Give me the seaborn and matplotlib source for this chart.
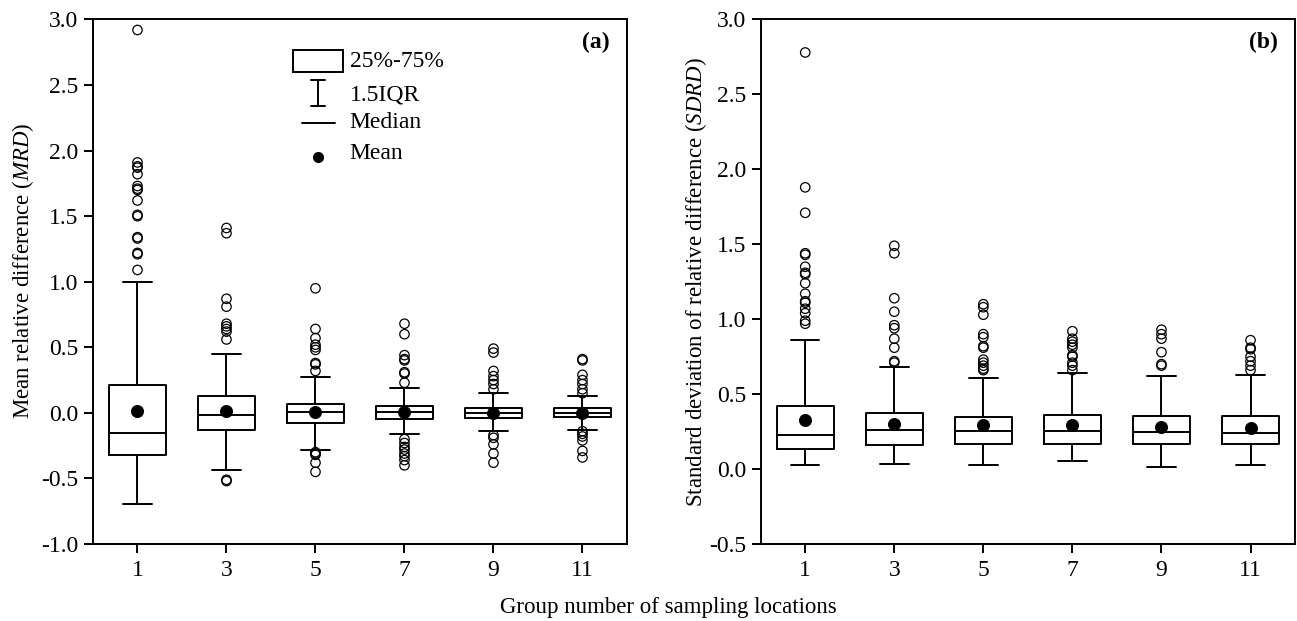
import matplotlib
matplotlib.use("Agg")
import matplotlib.pyplot as plt
import seaborn as sns
import numpy as np
import pandas as pd
from matplotlib.patches import Rectangle
from matplotlib.lines import Line2D

# ---------------- data ----------------
groups = ["1", "3", "5", "7", "9", "11"]

# Panel (a): MRD
mrd_q1 = [-0.324, -0.127, -0.074, -0.046, -0.036, -0.031]
mrd_med = [-0.156, -0.015, 0.010, 0.005, 0.000, 0.002]
mrd_q3 = [0.214, 0.125, 0.069, 0.051, 0.035, 0.035]
mrd_wlo = [-0.692, -0.438, -0.283, -0.163, -0.140, -0.130]
mrd_whi = [0.997, 0.447, 0.270, 0.193, 0.150, 0.132]
mrd_mean = [0.015, 0.012, 0.005, 0.008, 0.002, 0.002]
mrd_fliers = [
    [2.92, 1.91, 1.88, 1.87, 1.82, 1.73, 1.71, 1.70, 1.62, 1.51, 1.50, 1.34, 1.33, 1.22, 1.21, 1.09],
    [1.41, 1.37, 0.87, 0.81, 0.68, 0.66, 0.64, 0.62, 0.56, -0.51, -0.52],
    [0.95, 0.64, 0.57, 0.52, 0.50, 0.48, 0.38, 0.37, 0.32, -0.30, -0.31, -0.32, -0.38, -0.45],
    [0.68, 0.60, 0.44, 0.41, 0.40, 0.31, 0.30, 0.23, -0.20, -0.23, -0.26, -0.28, -0.31, -0.33, -0.36, -0.40],
    [0.49, 0.46, 0.32, 0.28, 0.25, 0.22, 0.18, -0.17, -0.19, -0.24, -0.31, -0.38],
    [0.41, 0.40, 0.29, 0.25, 0.22, 0.18, 0.15, -0.14, -0.16, -0.18, -0.21, -0.29, -0.34],
]

# Panel (b): SDRD
sd_q1 = [0.133, 0.162, 0.166, 0.166, 0.166, 0.166]
sd_med = [0.230, 0.264, 0.253, 0.253, 0.249, 0.244]
sd_q3 = [0.420, 0.377, 0.349, 0.362, 0.353, 0.353]
sd_wlo = [0.027, 0.033, 0.029, 0.051, 0.013, 0.027]
sd_whi = [0.860, 0.683, 0.606, 0.641, 0.621, 0.625]
sd_mean = [0.330, 0.304, 0.291, 0.291, 0.282, 0.275]
sd_fliers = [
    [2.78, 1.88, 1.71, 1.44, 1.43, 1.35, 1.31, 1.30, 1.24, 1.17, 1.12, 1.11, 1.07, 1.04, 0.99, 0.97],
    [1.49, 1.44, 1.14, 1.05, 0.96, 0.94, 0.87, 0.81, 0.72, 0.71],
    [1.10, 1.08, 1.03, 0.90, 0.88, 0.82, 0.81, 0.73, 0.71, 0.69, 0.67, 0.66],
    [0.92, 0.87, 0.85, 0.83, 0.81, 0.76, 0.75, 0.71, 0.69, 0.66],
    [0.93, 0.90, 0.87, 0.78, 0.70, 0.69],
    [0.86, 0.81, 0.80, 0.75, 0.72, 0.69, 0.66],
]

# ---------------- style ----------------
sns.set_style("ticks")
plt.rcParams["font.family"] = ["Liberation Serif", "DejaVu Serif"]
plt.rcParams["mathtext.fontset"] = "custom"
plt.rcParams["mathtext.it"] = "Liberation Serif:italic"
plt.rcParams["mathtext.rm"] = "Liberation Serif"
plt.rcParams["text.color"] = "black"
plt.rcParams["axes.labelcolor"] = "black"

FS_LAB = 16.5
FS_TICK = 17
LW = 1.4

fig = plt.figure(figsize=(12.97, 6.21), dpi=100)
axA = fig.add_axes([0.0717, 0.124, 0.4117, 0.8446])
axB = fig.add_axes([0.5865, 0.124, 0.4120, 0.8446])


def draw_panel(ax, q1, med, q3, wlo, whi, mean, fliers, ylim, yticks):
    stats = []
    for i in range(len(groups)):
        stats.append(dict(q1=q1[i], med=med[i], q3=q3[i], whislo=wlo[i],
                          whishi=whi[i], fliers=[], label=groups[i]))
    pos = np.arange(len(groups))
    lp = dict(color="black", linewidth=LW)
    ax.bxp(stats, positions=pos, widths=0.64, showfliers=False,
           boxprops=lp, whiskerprops=lp, capprops=lp, medianprops=lp,
           manage_ticks=False)
    fl = pd.DataFrame([(p, v) for p, vals in zip(pos, fliers) for v in vals],
                      columns=["pos", "val"])
    sns.scatterplot(data=fl, x="pos", y="val", ax=ax, marker="o", s=46,
                    facecolor="none", edgecolor="black", linewidth=0.9,
                    legend=False, zorder=3)
    mdf = pd.DataFrame({"pos": pos, "val": mean})
    sns.scatterplot(data=mdf, x="pos", y="val", ax=ax, marker="o", s=75,
                    color="black", edgecolor="black", legend=False, zorder=4)
    ax.set_xlim(-0.5, len(groups) - 0.5)
    ax.set_ylim(*ylim)
    ax.set_xticks(pos)
    ax.set_xticklabels(groups)
    ax.set_yticks(yticks)
    ax.set_yticklabels([f"{t:.1f}" for t in yticks])
    ax.set_xlabel("")
    for s in ax.spines.values():
        s.set_visible(True)
        s.set_linewidth(LW)
        s.set_color("black")
    ax.tick_params(axis="both", direction="out", length=6.5, width=LW,
                   labelsize=FS_TICK, colors="black")
    ax.tick_params(axis="x", pad=5)
    ax.tick_params(axis="y", pad=4)


draw_panel(axA, mrd_q1, mrd_med, mrd_q3, mrd_wlo, mrd_whi, mrd_mean, mrd_fliers,
           (-1.0, 3.0), np.arange(-1.0, 3.01, 0.5))
draw_panel(axB, sd_q1, sd_med, sd_q3, sd_wlo, sd_whi, sd_mean, sd_fliers,
           (-0.5, 3.0), np.arange(-0.5, 3.01, 0.5))

axA.set_ylabel(r"Mean relative difference ($\mathit{MRD}$)", fontsize=FS_LAB)
axB.set_ylabel(r"Standard deviation of relative difference ($\mathit{SDRD}$)", fontsize=FS_LAB)
axA.yaxis.set_label_coords(-0.106, 0.52)
axB.yaxis.set_label_coords(-0.097, 0.5)

axA.text(0.968, 0.976, "(a)", transform=axA.transAxes, ha="right", va="top",
         fontsize=FS_TICK, fontweight="bold")
axB.text(0.968, 0.976, "(b)", transform=axB.transAxes, ha="right", va="top",
         fontsize=FS_TICK, fontweight="bold")

fig.text(0.515, 0.022, "Group number of sampling locations", ha="center",
         va="center", fontsize=FS_LAB)

# ---------------- legend (panel a) ----------------
T = axA.transAxes
axA.add_patch(Rectangle((0.3745, 0.899), 0.0936, 0.043, transform=T,
                        facecolor="none", edgecolor="black", linewidth=LW))
xc = 0.422
axA.add_line(Line2D([xc, xc], [0.835, 0.885], transform=T, color="black", lw=LW))
axA.add_line(Line2D([xc - 0.013, xc + 0.013], [0.885, 0.885], transform=T, color="black", lw=LW))
axA.add_line(Line2D([xc - 0.013, xc + 0.013], [0.835, 0.835], transform=T, color="black", lw=LW))
axA.add_line(Line2D([0.391, 0.453], [0.803, 0.803], transform=T, color="black", lw=LW))
axA.add_line(Line2D([xc], [0.738], transform=T, color="black", marker="o",
                    markersize=7, linestyle="none"))
tx = 0.481
for y, s in [(0.919, "25%-75%"), (0.856, "1.5IQR"), (0.803, "Median"), (0.745, "Mean")]:
    axA.text(tx, y, s, transform=T, ha="left", va="center", fontsize=FS_TICK)

fig.savefig("out.png", dpi=100)
